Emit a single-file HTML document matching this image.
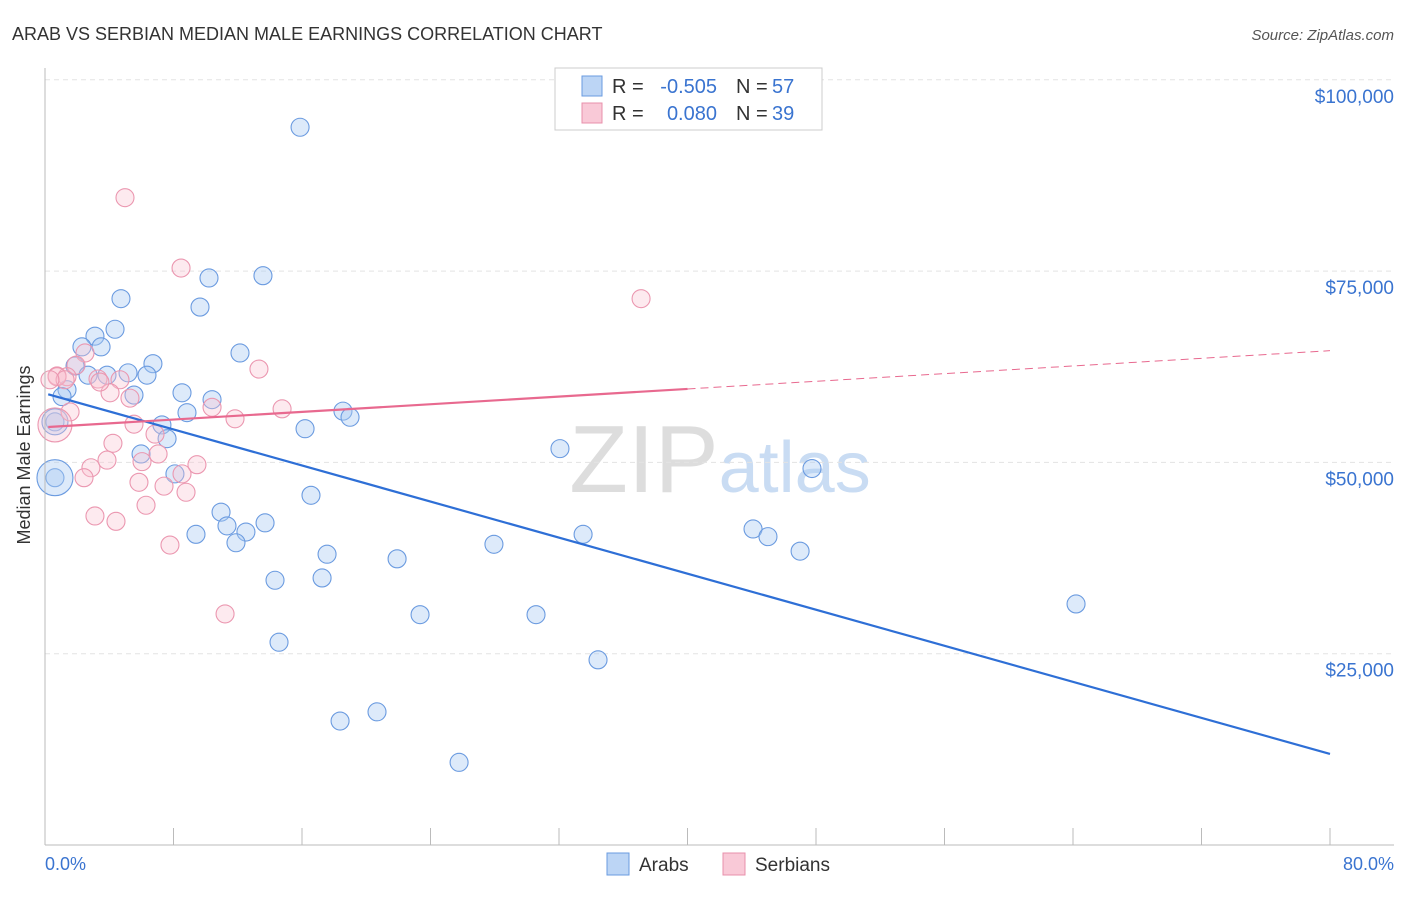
<!DOCTYPE html>
<html><head><meta charset="utf-8"><style>
body{margin:0;background:#fff;font-family:"Liberation Sans",sans-serif}
svg text{font-family:"Liberation Sans",sans-serif}
</style></head><body>
<svg id="c" width="1406" height="892">
<text x="12" y="40" font-size="18" fill="#333">ARAB VS SERBIAN MEDIAN MALE EARNINGS CORRELATION CHART</text>
<text x="1394" y="40" font-size="15" fill="#555" font-style="italic" text-anchor="end">Source: ZipAtlas.com</text>
<text x="720" y="492" font-size="96" fill="#ddd" text-anchor="middle" font-family="Liberation Serif">ZIP<tspan fill="#c9dcf3" font-family="Liberation Sans" font-size="72">atlas</tspan></text>
<g id="grid"></g><g id="pts"></g><g id="lines"></g>
<line x1="45" y1="68" x2="45" y2="845" stroke="#bbb"/>
<line x1="45" y1="845" x2="1394" y2="845" stroke="#bbb"/>
<text x="30" y="455" font-size="18" fill="#333" text-anchor="middle" transform="rotate(-90 30 455)">Median Male Earnings</text>
<text x="45" y="870" font-size="18" fill="#3a74d0">0.0%</text>
<text x="1394" y="870" font-size="18" fill="#3a74d0" text-anchor="end">80.0%</text>
<g>
<rect x="555" y="68" width="267" height="62" fill="#fff" stroke="#ccc"/>
<rect x="582" y="76" width="20" height="20" fill="#bcd5f5" stroke="#6a9be0"/>
<rect x="582" y="103" width="20" height="20" fill="#f9c9d7" stroke="#e890ab"/>
<text x="612" y="93" font-size="20" fill="#333">R =</text>
<text x="717" y="93" font-size="20" fill="#3a74d0" text-anchor="end">-0.505</text>
<text x="736" y="93" font-size="20" fill="#333">N =</text>
<text x="772" y="93" font-size="20" fill="#3a74d0">57</text>
<text x="612" y="120" font-size="20" fill="#333">R =</text>
<text x="717" y="120" font-size="20" fill="#3a74d0" text-anchor="end">0.080</text>
<text x="736" y="120" font-size="20" fill="#333">N =</text>
<text x="772" y="120" font-size="20" fill="#3a74d0">39</text>
</g>
<g>
<rect x="607" y="853" width="22" height="22" fill="#bcd5f5" stroke="#6a9be0"/>
<text x="639" y="871" font-size="19" fill="#333">Arabs</text>
<rect x="723" y="853" width="22" height="22" fill="#f9c9d7" stroke="#e890ab"/>
<text x="755" y="871" font-size="19" fill="#333">Serbians</text>
</g>
</svg>
<script>
const yTicks=[25000,50000,75000,100000];
const yTickLabels=["$25,000","$50,000","$75,000","$100,000"];
const xTicks=[8,16,24,32,40,48,56,64,72,80];
const arabX=[15.88,10.21,13.57,4.73,9.65,4.36,3.11,2.30,3.49,12.14,6.72,1.87,2.68,3.86,5.17,6.35,1.37,8.53,5.54,10.40,8.84,18.55,18.99,16.19,7.28,7.60,5.98,32.06,47.75,8.09,16.56,10.96,11.33,13.70,12.51,9.40,11.89,44.08,45.01,27.95,33.50,47.01,17.56,21.92,14.32,17.25,64.19,23.35,30.57,14.57,34.43,18.37,20.67,25.78,0.62,0.62,1.06];
const arabY=[93.8,74.1,74.4,71.4,70.3,67.4,66.5,65.1,65.1,64.3,62.9,62.6,61.4,61.4,61.7,61.4,59.5,59.1,58.8,58.2,56.5,56.7,55.9,54.4,54.9,53.1,51.1,51.8,49.2,48.5,45.7,43.5,41.7,42.1,40.9,40.6,39.5,41.3,40.3,39.3,40.6,38.4,38.0,37.4,34.6,34.9,31.5,30.1,30.1,26.5,24.2,16.2,17.4,10.8,48.0,55.3,58.6];
const arabBig=[0.62,0.62];const arabBigY=[48.0,55.3];const arabBigR=[18,13];
const serbX=[4.98,8.47,37.11,13.32,2.49,1.93,0.75,1.37,3.30,4.67,4.05,5.29,10.40,14.76,11.83,1.56,5.54,6.85,4.23,7.04,3.86,6.04,2.86,9.46,2.43,8.53,5.85,7.41,8.78,6.29,3.11,4.42,7.78,11.21,0.75,1.25,3.42,0.31];
const serbY=[84.6,75.4,71.4,62.2,64.3,62.7,61.3,61.2,60.9,60.8,59.1,58.4,57.2,57.0,55.7,56.6,55.0,53.7,52.5,51.1,50.3,50.1,49.3,49.7,48.0,48.5,47.4,46.9,46.1,44.4,43.0,42.3,39.2,30.2,61.2,60.8,60.5,60.8];
const serbBig=[0.62];const serbBigY=[54.9];const serbBigR=[17];
const arabTrend=[58.9,11.9];
const serbTrend=[54.6,64.6];const serbSolidEnd=40.0;
const NS="http://www.w3.org/2000/svg";
const xs=v=>45+v/80*1285;
const ys=v=>845-v/25*191.3;
function mk(t,a,p){const e=document.createElementNS(NS,t);for(const k in a)e.setAttribute(k,a[k]);p.appendChild(e);return e;}
const g=document.getElementById('grid');
yTicks.forEach((t,i)=>{const y=ys(t/1000);
const l=mk('line',{x1:45,x2:1394,y1:y,y2:y,stroke:'#e3e3e3','stroke-dasharray':'5,4'},g);


const tx=mk('text',{x:1394,y:y+23,'font-size':19,fill:'#3a74d0','text-anchor':'end'},g);tx.textContent=yTickLabels[i];

});
xTicks.forEach(t=>{const x=xs(t);const l=mk('line',{x1:x,x2:x,y1:828,y2:845,stroke:'#bbb'},g);

});
const p=document.getElementById('pts');
function dot(x,y,r,f,s,n){const c=mk('circle',{cx:xs(x),cy:ys(y),r:r,fill:f,stroke:s,'stroke-width':1.1},p);

}
arabX.forEach((x,i)=>dot(x,arabY[i],9,'rgba(170,202,242,0.4)','#6b9be0','arab-point'));
arabBig.forEach((x,i)=>dot(x,arabBigY[i],arabBigR[i],'rgba(170,202,242,0.4)','#6b9be0','arab-point'));
serbX.forEach((x,i)=>dot(x,serbY[i],9,'rgba(248,195,210,0.35)','#eb97b0','serbian-point'));
serbBig.forEach((x,i)=>dot(x,serbBigY[i],serbBigR[i],'rgba(248,195,210,0.35)','#eb97b0','serbian-point'));
const L=document.getElementById('lines');
let a=mk('line',{x1:xs(0.2),y1:ys(arabTrend[0]),x2:xs(80),y2:ys(arabTrend[1]),stroke:'#2e6fd6','stroke-width':2.2},L);


const sy=x=>serbTrend[0]+(serbTrend[1]-serbTrend[0])*x/80;
let b=mk('line',{x1:xs(0.2),y1:ys(sy(0.2)),x2:xs(serbSolidEnd),y2:ys(sy(serbSolidEnd)),stroke:'#e8698f','stroke-width':2.2},L);


let d=mk('line',{x1:xs(serbSolidEnd),y1:ys(sy(serbSolidEnd)),x2:xs(80),y2:ys(serbTrend[1]),stroke:'#e8698f','stroke-width':1,'stroke-dasharray':'8,5'},L);


</script>
</body></html>
